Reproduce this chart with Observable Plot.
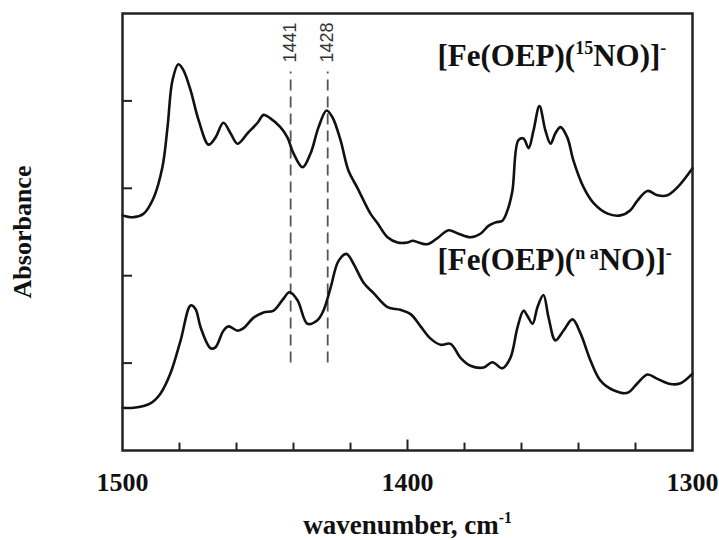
<!DOCTYPE html>
<html><head><meta charset="utf-8">
<script src="https://cdn.jsdelivr.net/npm/d3@7"></script>
<script src="https://cdn.jsdelivr.net/npm/@observablehq/plot@0.6"></script>
<style>body{margin:0;background:#fff} svg{display:block;background:#fff}</style>
</head><body><div id="chart"></div>
<script>
// [Fe(OEP)(15NO)]- spectrum (wavenumber, cm-1 / absorbance, arb. units)
const wn15 = [1500,1496.1,1492.6,1489.1,1486.0,1484.2,1482.5,1480.4,1478.6,1476.1,1473.3,1469.8,1467.4,1464.6,1462.1,1459.6,1456.1,1452.6,1450.5,1448.1,1444.6,1442.1,1440.0,1436.8,1434.0,1431.2,1428.4,1426.3,1423.5,1420.7,1417.5,1413.0,1410.5,1407.0,1403.5,1400.0,1398.2,1396.1,1393.0,1389.5,1385.6,1382.1,1377.9,1374.4,1371.6,1369.1,1366.7,1364.9,1363.2,1361.1,1359.3,1357.5,1355.8,1353.7,1351.6,1349.8,1348.1,1346.3,1343.9,1341.8,1338.2,1334.7,1329.8,1325.3,1321.8,1319.3,1315.8,1312.3,1308.8,1305.3,1300];
const abs15 = [2.69,2.67,2.71,2.89,3.24,3.70,4.23,4.42,4.35,4.12,3.78,3.50,3.58,3.75,3.63,3.51,3.63,3.75,3.84,3.80,3.70,3.58,3.40,3.24,3.40,3.70,3.89,3.81,3.55,3.20,3.00,2.71,2.60,2.44,2.38,2.38,2.40,2.38,2.36,2.43,2.52,2.48,2.44,2.48,2.57,2.61,2.63,2.75,2.97,3.55,3.57,3.46,3.66,3.94,3.66,3.51,3.63,3.70,3.58,3.32,3.01,2.83,2.71,2.69,2.75,2.86,2.97,2.92,2.92,3.01,3.23];
// [Fe(OEP)(naNO)]- spectrum
const wnNA = [1500,1496.1,1490.2,1486.7,1483.2,1479.6,1476.1,1474.4,1472.6,1469.1,1467.4,1464.6,1462.8,1459.6,1457.5,1454.0,1450.5,1447.0,1443.9,1441.4,1438.6,1435.1,1431.6,1429.5,1427.0,1424.2,1421.4,1419.0,1415.4,1411.9,1407.0,1402.5,1398.9,1395.4,1391.9,1388.4,1384.9,1381.4,1377.9,1373.3,1370.2,1366.7,1363.9,1361.4,1359.3,1357.9,1356.1,1354.4,1352.3,1350.5,1348.1,1345.3,1342.1,1339.3,1335.8,1332.3,1327.7,1322.8,1319.3,1315.8,1312.3,1307.7,1304.2,1300];
const absNA = [0.49,0.49,0.54,0.65,0.88,1.26,1.66,1.62,1.41,1.17,1.18,1.37,1.42,1.37,1.40,1.52,1.58,1.60,1.72,1.81,1.72,1.45,1.49,1.60,1.86,2.17,2.25,2.14,1.92,1.80,1.64,1.61,1.56,1.42,1.28,1.21,1.22,1.06,0.97,0.95,1.01,0.94,1.06,1.41,1.60,1.54,1.45,1.64,1.78,1.52,1.26,1.37,1.50,1.34,1.03,0.80,0.69,0.66,0.77,0.87,0.82,0.76,0.77,0.88];

const xTickLabels = [1500, 1400, 1300];
const xMinorTicks = [1480, 1460, 1440, 1420, 1380, 1360, 1340, 1320];
const xMajorTicks = [1400];
const yTicks = [1, 2, 3, 4];
const markerLines = [1441, 1428];
const markerLabels = ["1441", "1428"];
const seriesNames = ["15NO", "naNO"];
const seriesLabels = ["[Fe(OEP)(^{15}NO)]^{-}", "[Fe(OEP)(^{n a}NO)]^{-}"];
const xTitle = "wavenumber, cm^{-1}";
const yTitle = "Absorbance";

const rows = [
  ...wn15.map((w, i) => ({series: seriesNames[0], wn: w, a: abs15[i]})),
  ...wnNA.map((w, i) => ({series: seriesNames[1], wn: w, a: absNA[i]}))
];
const labelRows = seriesLabels.map((t, i) => ({t, x: 1389.5, y: [4.40, 2.06][i]}));

const serif = "'Liberation Serif', 'Times New Roman', Times, serif";
const sans = "'Liberation Sans', Arial, Helvetica, sans-serif";

const W = 719, H = 540, mL = 122, mR = 27, mT = 13, mB = 90;
const plotW = W - mL - mR;

const chart = Plot.plot({
  width: W,
  height: H,
  marginLeft: mL,
  marginRight: mR,
  marginTop: mT,
  marginBottom: mB,
  style: {background: "#fff", color: "#111"},
  x: {domain: [1500, 1300], axis: null},
  y: {domain: [0, 5], axis: null},
  marks: [
    Plot.ruleX(xMinorTicks, {x: d => d, y1: 0, y2: 0.085, stroke: "#222", strokeWidth: 2}),
    Plot.ruleX(xMajorTicks, {x: d => d, y1: 0, y2: 0.12, stroke: "#222", strokeWidth: 2}),
    Plot.ruleY(yTicks, {y: d => d, insetRight: plotW - 10, stroke: "#222", strokeWidth: 2}),
    Plot.axisX(xTickLabels, {anchor: "bottom", tickSize: 0, tickPadding: 22, tickFormat: d => String(d), fontSize: 26, fontWeight: "bold", fontFamily: serif, label: null, fill: "#111"}),
    Plot.ruleX(markerLines, {x: d => d, y1: 1.0, y2: 4.33, stroke: "#555", strokeWidth: 1.8, strokeDasharray: "11,6"}),
    Plot.text(markerLines, {x: d => d, y: 4.44, text: (d, i) => markerLabels[i], rotate: -90, textAnchor: "start", fontSize: 18, fontFamily: sans, fill: "#333"}),
    Plot.line(rows, {x: "wn", y: "a", z: "series", curve: "catmull-rom", stroke: "#111", strokeWidth: 2.6}),
    Plot.frame({stroke: "#222", strokeWidth: 2.5}),
    Plot.text(labelRows, {x: "x", y: "y", text: "t", textAnchor: "start", lineAnchor: "bottom", fontSize: 31, fontWeight: "bold", fontFamily: serif, fill: "#111"}),
    Plot.text([yTitle], {text: d => d, frameAnchor: "left", dx: -100, rotate: -90, textAnchor: "middle", fontSize: 26, fontWeight: "bold", fontFamily: serif, fill: "#111"}),
    Plot.text([xTitle], {text: d => d, frameAnchor: "bottom", dy: 83, lineAnchor: "bottom", textAnchor: "middle", fontSize: 27, fontWeight: "bold", fontFamily: serif, fill: "#111"})
  ]
});
document.getElementById("chart").appendChild(chart);

// turn ^{...} into superscript tspans
chart.querySelectorAll("text").forEach(el => {
  const s = el.textContent;
  if (!s.includes("^{")) return;
  const fs = parseFloat(getComputedStyle(el).fontSize) || 20;
  const parts = s.split(/\^\{([^}]*)\}/);
  while (el.firstChild) el.removeChild(el.firstChild);
  let shifted = false;
  parts.forEach((p, i) => {
    if (p === "") return;
    const t = document.createElementNS("http://www.w3.org/2000/svg", "tspan");
    t.textContent = p;
    if (i % 2 === 1) {
      t.setAttribute("font-size", (fs * 0.58).toFixed(1));
      t.setAttribute("dy", (-fs * 0.38).toFixed(1));
      shifted = true;
    } else if (shifted) {
      t.setAttribute("dy", (fs * 0.38).toFixed(1));
      shifted = false;
    }
    el.appendChild(t);
  });
});
</script>
</body></html>
